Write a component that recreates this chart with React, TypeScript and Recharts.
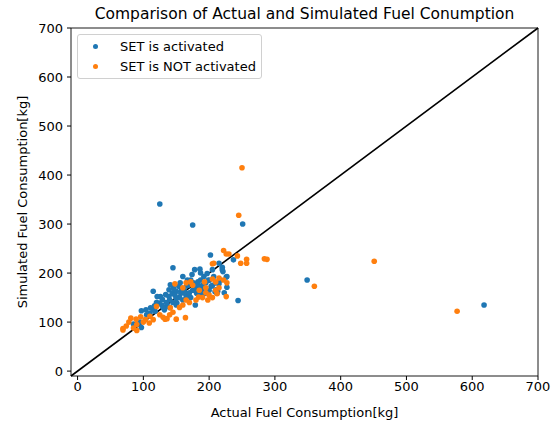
import React from "react";
import {
  ScatterChart,
  Scatter,
  XAxis,
  YAxis,
  ReferenceLine,
  ReferenceArea,
  Label,
} from "recharts";

const FONT = "'DejaVu Sans', sans-serif";
const BLUE = "#1f77b4";
const ORANGE = "#ff7f0e";

const TITLE = "Comparison of Actual and Simulated Fuel Conumption";
const X_LABEL = "Actual Fuel Consumption[kg]";
const Y_LABEL = "Simulated Fuel Consumption[kg]";
const SERIES_NAMES = ["SET is activated", "SET is NOT activated"];
const SERIES_COLORS = [BLUE, ORANGE];
const TICKS = [0, 100, 200, 300, 400, 500, 600, 700];

// SET is activated (actual, simulated)
const activatedX = [
  125, 175, 251, 202, 237, 145, 115, 244, 226, 221, 215, 179, 97, 85, 349, 618, 227, 220, 209,
  97, 104, 111, 117, 124, 126, 129, 134, 139, 144, 146, 141, 150, 154, 157, 162, 166, 169, 172,
  174, 178, 182, 186, 187, 189, 192, 197, 199, 203, 207, 210, 212, 215, 217, 220, 223, 227, 205,
  178, 187, 156, 151, 132, 136, 118, 121, 128, 181, 167, 160, 194, 213, 176, 163, 139,
  170, 175, 180, 185, 190, 195, 165, 160, 155, 150, 145, 140, 135, 130, 185, 190, 200, 205, 210,
  172, 168, 200, 183, 148, 158, 110, 115, 105, 95, 120, 140, 150,
];
const activatedY = [
  341, 298, 300, 237, 227, 211, 163, 144, 192, 203, 220, 135, 89, 96, 186, 135, 193, 207, 162,
  123, 125, 129, 133, 139, 152, 146, 156, 152, 159, 169, 176, 163, 173, 159, 166, 174, 156, 186,
  197, 169, 178, 208, 186, 166, 193, 199, 186, 173, 193, 166, 159, 178, 186, 212, 160, 171, 207,
  207, 200, 180, 139, 125, 133, 122, 152, 135, 159, 186, 193, 159, 163, 180, 159, 166,
  160, 165, 170, 172, 175, 180, 150, 145, 150, 148, 140, 145, 140, 130, 160, 155, 165, 175, 180,
  150, 175, 185, 182, 155, 165, 118, 125, 115, 100, 140, 130, 135,
];

// SET is NOT activated (actual, simulated)
const notActivatedX = [
  245, 250, 222, 226, 230, 205, 248, 257, 257, 284, 288, 148, 165, 193, 195, 210, 226, 184, 164,
  150, 136, 133, 120, 141, 110, 103, 96, 89, 81, 74, 69, 69, 90, 109, 451, 577, 360, 243, 207,
  222, 227, 175, 185, 190, 200, 205, 195, 210, 215, 180, 170, 160, 155, 145, 125, 130, 115, 100,
  90, 85, 78, 205, 215, 198, 212, 160, 172, 140, 165,
];
const notActivatedY = [
  318, 415, 246, 239, 239, 219, 220, 228, 220, 229, 228, 178, 180, 182, 160, 182, 152, 151, 109,
  106, 107, 106, 132, 129, 112, 105, 111, 106, 108, 92, 87, 84, 83, 98, 224, 122, 173, 235, 220,
  186, 180, 175, 165, 150, 155, 150, 170, 165, 170, 145, 140, 135, 130, 120, 115, 110, 105, 100,
  95, 88, 100, 188, 190, 145, 158, 170, 182, 115, 145,
];

const activated = activatedX.map((x, i) => ({ x, y: activatedY[i] }));
const notActivated = notActivatedX.map((x, i) => ({ x, y: notActivatedY[i] }));

const dot = (color: string) => (props: any) =>
  <circle cx={props.cx} cy={props.cy} r={2.8} fill={color} />;

// legend drawn as an overlay so it doesn't steal space from the plot
const LegendBox = () => (
  <div
    style={{
      position: "absolute",
      left: 77,
      top: 34,
      width: 183,
      height: 42,
      border: "1px solid #d0d0d0",
      borderRadius: 3,
      background: "rgba(255,255,255,0.85)",
      fontFamily: FONT,
      fontSize: 13,
      color: "#000",
      paddingTop: 1,
    }}
  >
    {SERIES_NAMES.map((name, i) => (
      <div key={name} style={{ display: "flex", alignItems: "center", height: 20.5 }}>
        <span
          style={{
            display: "inline-block",
            width: 5,
            height: 5,
            borderRadius: "50%",
            background: SERIES_COLORS[i],
            marginLeft: 15,
            marginRight: 22,
          }}
        />
        <span>{name}</span>
      </div>
    ))}
  </div>
);

export default function App() {
  return (
    <div style={{ position: "absolute", left: 0, top: 0, width: 557, height: 423, background: "#fff" }}>
      <div
        style={{
          position: "absolute",
          left: 71,
          top: 4,
          width: 467,
          textAlign: "center",
          fontFamily: FONT,
          fontSize: 15.5,
          lineHeight: "20px",
          color: "#000",
        }}
      >
        {TITLE}
      </div>
      <ScatterChart width={557} height={423} margin={{ top: 28, right: 19, bottom: 6, left: 8 }}>
        <XAxis
          type="number"
          dataKey="x"
          domain={[-10, 700]}
          ticks={TICKS}
          allowDataOverflow
          height={41}
          tickSize={4}
          tickMargin={2}
          stroke="#000"
          tick={{ fill: "#000", fontSize: 13, fontFamily: FONT }}
          axisLine={false}
        >
          <Label
            value={X_LABEL}
            position="insideBottom"
            offset={0}
            style={{ fill: "#000", fontSize: 13, fontFamily: FONT }}
          />
        </XAxis>
        <YAxis
          type="number"
          dataKey="y"
          domain={[-10, 700]}
          ticks={TICKS}
          allowDataOverflow
          width={63}
          tickSize={4}
          tickMargin={4}
          stroke="#000"
          tick={{ fill: "#000", fontSize: 13, fontFamily: FONT }}
          axisLine={false}
        >
          <Label
            value={Y_LABEL}
            angle={-90}
            position="insideLeft"
            offset={14}
            style={{ fill: "#000", fontSize: 13, fontFamily: FONT, textAnchor: "middle" }}
          />
        </YAxis>
        <Scatter
          name={SERIES_NAMES[0]}
          data={activated}
          fill={BLUE}
          shape={dot(BLUE)}
          isAnimationActive={false}
        />
        <Scatter
          name={SERIES_NAMES[1]}
          data={notActivated}
          fill={ORANGE}
          shape={dot(ORANGE)}
          isAnimationActive={false}
        />
        <ReferenceLine
          segment={[
            { x: -10, y: -10 },
            { x: 700, y: 700 },
          ]}
          stroke="#000"
          strokeWidth={1.6}
        />
        <ReferenceArea x1={-10} x2={700} y1={-10} y2={700} fill="none" stroke="#000" strokeWidth={0.9} fillOpacity={0} />
      </ScatterChart>
      <LegendBox />
    </div>
  );
}
